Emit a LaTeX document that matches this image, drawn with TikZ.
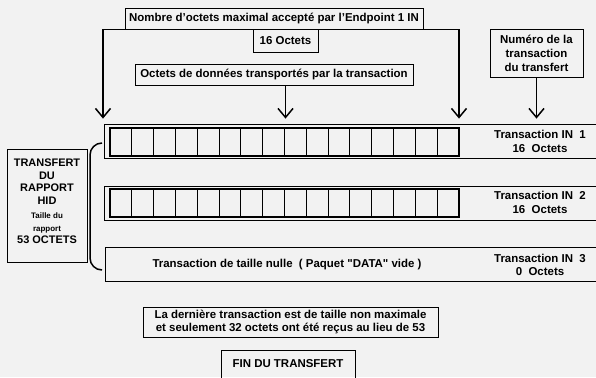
\documentclass[tikz,border=0pt]{standalone}
\usepackage{fontspec}
\setmainfont{Liberation Sans}
\usetikzlibrary{arrows.meta}
\begin{document}
\begin{tikzpicture}[x=1bp,y=-1bp,
  box/.style={draw,line width=0.8bp,inner sep=1bp,font=\bfseries\fontsize{11.5}{14}\selectfont,align=center},
  lbl/.style={inner sep=0pt,font=\bfseries\fontsize{11.5}{13.5}\selectfont,align=center},
  ligne/.style={draw,line width=0.8bp,minimum width=506bp,minimum height=34bp,inner sep=0pt},
  fleche/.style={line width=1.5bp,-{Straight Barb[length=9bp,width=15bp,line width=1.5bp]},shorten >=5bp}]
\useasboundingbox[fill=gray!10] (0,0) rectangle (596,377);
\node[box,minimum width=298bp,minimum height=21bp] (maxi) at (274,18.5) {Nombre d'octets maximal accepté par l'Endpoint 1 IN};
\node[box,minimum width=65bp,minimum height=23bp] (seize) at (285.5,40.5) {16 Octets};
\node[box,minimum width=278bp,minimum height=21bp] (donnees) at (274,74.5) {Octets de données transportés par la transaction};
\node[box,minimum width=93bp,minimum height=48bp] (numero) at (536.5,53) {Numéro de la\\transaction\\du transfert};
\node[ligne] (ligne1) at (357,141) {};
\node[ligne] (ligne2) at (357,203.5) {};
\node[ligne] (ligne3) at (358,264.5) {};
\foreach \y [count=\n] in {128,189}{
  \draw[line width=1.6bp] (110,\y) rectangle (459,\y+28);
  \foreach \i in {1,...,15}
    \draw[line width=1bp] (110+\i*21.8125,\y) -- (110+\i*21.8125,\y+28);
}
\node[lbl] (in1) at (540,141.5) {Transaction IN\ \ 1\\16\ \ Octets};
\node[lbl] (in2) at (540,202.5) {Transaction IN\ \ 2\\16\ \ Octets};
\node[lbl] (in3) at (540,265) {Transaction IN\ \ 3\\0\ \ Octets};
\node[lbl] (nulle) at (287,265) {Transaction de taille nulle\ \ ( Paquet {\addfontfeature{Ligatures=TeXOff}"DATA"} vide )};
\coordinate (gauche) at (103,29.5);
\coordinate (droite) at (459,29.5);
\draw[line width=1.5bp,{Straight Barb[length=9bp,width=15bp,line width=1.5bp]}-{Straight Barb[length=9bp,width=15bp,line width=1.5bp]},shorten <=5bp,shorten >=5bp]
  (ligne1.north -| gauche) -- (gauche) -- (droite) -- (ligne1.north -| droite);
\draw[fleche] (donnees.south -| seize) -- (ligne1.north -| seize);
\draw[fleche] (numero.south) -- (ligne1.north -| numero);
\node[box,minimum width=80bp,minimum height=113bp] (rapport) at (47,205.5) {};
\node[lbl,font=\bfseries\fontsize{11}{12.5}\selectfont] (rapporttxt) at (47,201.5) {TRANSFERT\\DU\\RAPPORT\\HID\\[2bp]{\fontsize{8}{11.5}\selectfont Taille du}\\{\fontsize{8}{11.5}\selectfont rapport}\\53 OCTETS};
\draw[line width=1.5bp] (102,143) to[out=180,in=90] (90,155) -- (90,258) to[out=-90,in=180] (102,270);
\node[box,minimum width=295bp,minimum height=30bp] (derniere) at (290.5,322) {La dernière transaction est de taille non maximale\\et seulement 32 octets ont été reçus au lieu de 53};
\node[box,minimum width=134bp,minimum height=28bp] (fin) at (288,364) {FIN DU TRANSFERT};
\end{tikzpicture}
\end{document}
